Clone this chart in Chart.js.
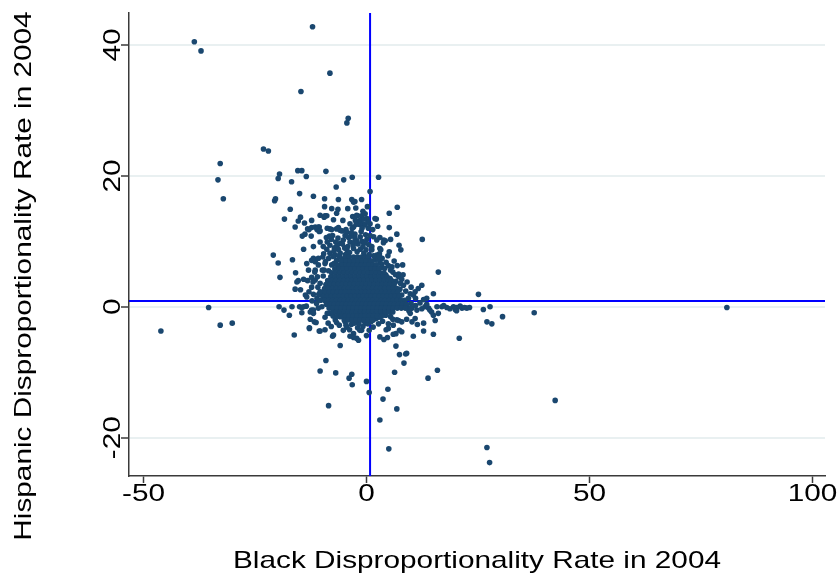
<!DOCTYPE html>
<html>
<head>
<meta charset="utf-8">
<title>Black vs Hispanic disproportionality, 2004</title>
<script src="https://cdn.jsdelivr.net/npm/chart.js@4"></script>
<style>
  html, body { margin: 0; padding: 0; background: #fff; }
  #chart { display: block; }
</style>
</head>
<body>
<canvas id="chart" width="837" height="578"></canvas>
<script>
// axis ticks and titles
const xTicks = [-50, 0, 50, 100];
const xTickLabels = ['-50', '0', '50', '100'];
const yTicks = [-20, 0, 20, 40];
const yTickLabels = ['-20', '0', '20', '40'];
const xTitle = 'Black Disproportionality Rate in 2004';
const yTitle = 'Hispanic Disproportionality Rate in 2004';

// reference lines (sample means)
const meanBlack = 0.8;
const meanHispanic = 0.9;

// scattered districts, [black, hispanic]
const scatterPts = [
  [-38.6, 40.5], [-37.1, 39.1], [-12.1, 42.8], [-8.2, 35.7], [-14.7, 32.9], [-4.1, 28.8], [-4.4, 28.1],
  [-23.1, 24.1], [-22.0, 23.8], [-32.8, 21.9], [-33.3, 19.4], [-32.1, 16.5],
  [-15.4, 20.8], [-14.5, 20.8], [-9.1, 20.7], [-19.5, 20.3], [-19.8, 19.6], [-16.8, 19.1], [-13.5, 19.9],
  [-5.1, 19.4], [-3.2, 19.8], [-6.8, 18.3], [2.7, 19.8], [0.8, 17.6], [-15.0, 17.3], [-11.9, 16.9],
  [-20.6, 16.2], [-20.4, 16.5], [-9.4, 16.5], [-6.3, 16.4], [-3.3, 16.4], [-1.1, 16.4], [-2.6, 16.1], [-2.9, 16.0],
  [-9.4, 15.3], [-7.8, 15.0], [-6.4, 14.9], [-6.7, 14.3], [-4.2, 15.0], [-17.1, 14.9], [6.9, 15.2], [5.1, 14.3],
  [-18.4, 13.4], [-14.8, 13.7], [-15.3, 13.1], [-13.9, 12.8], [-16.0, 12.2], [-12.3, 13.2],
  [-10.4, 14.0], [-9.5, 13.7], [-8.9, 13.9], [-9.3, 13.9], [-10.6, 12.2], [-8.2, 11.9], [-8.8, 12.0],
  [-13.2, 11.9], [-12.3, 12.1], [-11.5, 12.2], [-10.8, 12.2],
  [-14.4, 10.8], [-13.8, 11.1], [-12.4, 10.8], [-11.1, 11.8], [-10.6, 11.5], [-12.9, 11.8], [-10.4, 11.6],
  [-6.7, 11.9], [-5.9, 11.7], [-4.6, 11.8], [-6.3, 12.1], [-7.8, 11.8], [-5.5, 11.6], [-4.4, 11.4],
  [-3.1, 13.8], [-2.2, 14.0], [-1.1, 13.9], [-0.3, 14.2], [0.1, 13.5], [1.9, 13.5], [-2.0, 13.9], [-1.4, 13.2], [2.2, 13.4],
  [-1.4, 12.8], [-0.7, 12.6], [0.8, 12.7], [-3.7, 12.7], [-2.9, 12.2], [-1.6, 12.6], [-0.3, 12.5],
  [5.1, 12.1], [6.8, 11.1], [12.5, 10.3], [3.0, 10.6], [3.9, 10.2], [5.4, 10.3], [1.6, 10.7], [2.3, 10.2], [4.2, 10.1], [3.8, 9.8],
  [7.3, 9.4], [7.7, 8.7], [5.1, 8.4], [3.0, 8.9], [2.9, 8.1], [1.2, 9.2], [1.2, 8.7], [3.2, 8.7],
  [8.1, 6.4], [5.7, 6.1], [5.4, 5.6], [7.2, 5.0], [7.2, 4.6], [16.1, 5.3], [7.9, 4.2], [5.3, 4.3],
  [2.3, 7.9], [1.9, 7.2], [3.0, 6.9], [3.4, 6.5],
  [-5.2, 10.2], [-5.9, 9.7], [-3.7, 9.9], [-2.6, 10.5], [-1.4, 10.7], [0.1, 10.3],
  [-10.4, 9.9], [-9.7, 9.2], [-8.2, 9.4], [-11.9, 9.2], [-14.1, 8.8],
  [-8.2, 8.2], [-8.5, 7.4], [-7.0, 7.9], [-5.9, 8.2], [-4.4, 8.7], [-2.9, 8.9], [-1.4, 8.8], [-0.1, 8.7],
  [-20.9, 7.9], [-19.8, 6.7], [-19.4, 4.5], [-16.6, 7.2], [-15.9, 5.2], [-13.4, 6.6], [-12.3, 7.1], [-11.5, 6.9], [-11.9, 7.4],
  [-10.8, 7.4], [-9.3, 6.6], [-7.8, 6.4], [-6.7, 7.1], [-5.5, 6.6],
  [-11.5, 5.6], [-9.5, 5.6], [-11.6, 5.3],
  [-15.3, 4.0], [-14.1, 4.2], [-13.2, 4.0], [-12.3, 4.5], [-11.5, 4.1], [-15.6, 3.8], [-10.4, 3.6],
  [-16.0, 2.7], [-13.7, 1.8], [-12.3, 3.0], [-13.4, 1.5], [-11.9, 1.9], [-10.4, 2.3], [-11.1, 1.3], [-9.7, 1.1], [-8.5, 0.9], [-7.8, 1.3],
  [-35.4, -0.1], [-32.8, -2.8], [-30.1, -2.5], [-46.1, -3.7],
  [-19.6, 0.0], [-18.5, -0.5], [-17.3, -1.3], [-16.7, 0.0], [-15.0, 0.0], [-14.5, -0.1], [-14.1, 0.0], [-13.5, 0.1],
  [-12.3, -0.5], [-12.6, -0.8], [-11.9, -0.5], [-10.8, -0.2], [-10.0, 0.0], [-14.5, -0.9], [-11.9, -1.0],
  [-12.6, -1.9], [-11.7, -2.3], [-11.3, -2.4], [-9.3, -1.6], [-12.8, -3.2], [-10.4, -3.7], [-9.3, -3.5], [-16.2, -4.3],
  [-7.4, -4.3], [-5.9, -5.9], [-4.4, -3.1], [-2.9, -4.1], [-2.2, -4.8], [-1.8, -5.1], [-1.1, -3.6], [-0.3, -2.5],
  [-8.2, -1.0], [-7.0, -2.0], [-5.9, -1.5], [-4.8, -2.3], [1.5, -2.0], [2.7, -2.6], [1.5, -3.1], [-3.7, -4.5],
  [12.4, 3.3], [11.6, 2.8], [10.9, 2.3], [9.8, 2.0], [10.5, 1.8], [8.3, 3.3], [7.5, 2.7], [6.0, 3.6], [6.4, 1.8], [7.9, 1.8],
  [15.0, 2.0], [13.5, 1.3], [12.8, 1.1], [25.1, 1.9],
  [15.8, 0.0], [16.9, 0.0], [18.0, -0.1], [19.5, 0.0], [20.2, -0.1], [21.4, -0.2], [22.5, -0.2], [16.1, -1.0],
  [13.9, -0.2], [13.1, 0.0], [14.6, -0.8], [19.9, -0.4], [20.2, -0.6],
  [9.0, 0.0], [10.2, -0.2], [11.3, -0.5], [9.8, -1.0], [10.9, -1.8], [9.0, -1.9], [10.2, -2.3], [15.0, -1.3], [15.4, -2.1],
  [12.8, -2.5], [15.0, -4.2], [11.4, -2.7], [12.8, -3.7], [10.5, -4.5], [7.4, -3.6], [6.6, -4.1], [6.0, -4.2], [7.9, -3.8],
  [4.9, -3.3], [7.2, -2.1], [7.9, -2.3], [6.8, -2.0], [3.0, -4.6], [3.9, -5.0], [4.7, -4.7], [6.6, -6.0], [20.8, -4.8],
  [26.2, -0.4], [27.7, 0.0], [30.5, -1.5], [37.6, -0.9], [27.0, -2.3], [28.1, -2.6], [80.8, -0.1], [42.3, -14.3],
  [-9.1, -8.2], [-10.4, -9.8], [-6.9, -10.1], [-3.9, -10.9], [-3.3, -10.3], [-3.2, -11.9], [0.0, -11.4], [0.6, -13.1],
  [3.7, -14.1], [4.8, -12.6], [6.3, -10.0], [7.4, -7.3], [9.0, -7.1], [8.8, -7.2], [8.4, -8.6], [13.8, -10.9], [15.9, -9.7],
  [-8.5, -15.1], [6.8, -15.6], [3.0, -17.3], [5.0, -21.7], [27.0, -21.5], [27.6, -23.8],
  [-12.8, -3.3], [-10.6, -3.7], [-7.6, -4.5], [-2.9, -4.7],
  [-3.8, 8.3], [-2.1, 8.4], [-0.6, 8.2], [0.6, 8.0], [-3.0, 9.4], [-1.9, 9.6], [-0.8, 9.2], [0.5, 9.5],
  [-2.6, 11.1], [-1.2, 11.5], [-0.2, 11.0], [0.4, 12.0], [-1.9, 12.9], [-0.8, 14.6], [-2.4, 15.1], [0.2, 15.3],
  [-4.9, 9.0], [-6.9, 9.9], [-4.0, 10.6], [-3.2, 12.0], [-5.3, 13.2], [-7.4, 13.3], [1.4, 11.8], [2.5, 12.3],
  [10.0, 0.5], [11.0, 0.2], [12.0, 0.6], [12.4, -0.3], [13.5, 0.4], [14.2, -0.5], [9.5, -0.6], [17.3, 0.2],
  [18.7, -0.3], [21.0, 0.1], [22.0, -0.1], [23.1, -0.1],
  [-12.9, 2.3], [-14.8, 2.6], [-11.0, 4.6], [-13.0, 5.6], [-10.8, 6.4], [-9.8, 7.6], [-8.9, 8.8], [-7.2, 9.0],
  [-6.4, 10.5], [-9.0, 10.6], [-7.6, 10.9],
  [-8.6, -2.5], [-6.1, -2.8], [-3.4, -2.7], [-0.8, -3.0], [0.6, -3.6], [3.6, -2.2], [5.4, -1.5], [6.0, -2.8],
  [4.4, -3.5], [-2.0, -3.2], [-5.2, -3.6], [-7.9, -3.0],
  [3.5, 7.4], [4.4, 6.8], [4.8, 7.8], [6.2, 7.0], [6.6, 3.9], [8.8, 2.4], [9.4, 1.3]
];

// districts crowding the edge of the central block
const haloPts = [
  [-9.6, 8.1], [-8.8, 9.9], [-7.9, 10.3], [-7.3, 8.5], [-6.6, 9.3], [-6.0, 7.6], [-5.4, 9.6], [-4.7, 8.0],
  [-4.2, 9.2], [-3.5, 10.8], [-9.2, 6.9], [-7.5, 7.7], [-6.3, 8.8], [-5.1, 7.3], [-8.3, 10.8], [-4.8, 10.9],
  [-3.4, 11.3], [-2.2, 10.1], [-1.0, 10.0], [0.8, 10.9], [-0.4, 9.8], [-2.7, 9.9],
  [-2.3, 12.6], [-1.0, 12.0], [0.3, 13.0], [-0.6, 13.4], [-2.5, 13.2],
  [1.6, 7.8], [2.6, 7.3], [3.3, 6.0], [4.1, 5.9], [4.9, 6.3], [5.9, 5.3], [6.5, 4.9], [7.6, 3.6], [8.2, 4.9],
  [2.9, 7.7], [4.3, 4.9], [6.9, 6.3], [9.1, 3.8], [10.0, 3.0], [11.0, 1.3], [9.9, -0.2],
  [-4.6, -2.8], [-3.8, -3.5], [-2.7, -2.5], [-1.7, -2.6], [-0.6, -2.1], [0.3, -2.6], [1.0, -2.3], [2.2, -1.8],
  [3.0, -1.6], [4.3, -1.3], [5.9, -1.9], [4.9, -2.6], [-1.5, -3.6], [0.0, -4.4], [-6.7, -2.4], [-7.5, -1.4], [-8.8, -1.0],
  [-11.2, 0.5], [-10.7, 1.9], [-12.2, 0.9], [-10.9, 3.0], [-9.7, 4.7], [-9.9, 5.6], [-8.5, 5.5], [-7.3, 6.6], [-12.0, 3.8]
];

// the dense block of districts near zero, one row per hispanic value
const coreRowY = [7.6, 7.0, 6.4, 5.8, 5.2, 4.6, 4.0, 3.4, 2.8, 2.2, 1.6, 1.0, 0.4, -0.2, -0.8, -1.4, -2.0];
const coreRowX = [
  [-4.8, -3.9, -2.9, -2.0, -1.1, -0.2, 0.3],
  [-5.6, -4.6, -3.7, -2.8, -1.9, -1.0, -0.1, 0.8, 1.1],
  [-6.5, -5.5, -4.6, -3.8, -2.9, -2.0, -1.1, -0.2, 0.6, 1.5, 2.2],
  [-7.1, -6.2, -5.3, -4.4, -3.5, -2.6, -1.7, -0.8, 0.1, 1.0, 1.9, 2.8],
  [-7.8, -6.9, -6.0, -5.1, -4.2, -3.3, -2.4, -1.5, -0.6, 0.3, 1.2, 2.1, 3.0, 3.9],
  [-8.0, -7.1, -6.2, -5.3, -4.4, -3.5, -2.6, -1.7, -0.8, 0.1, 1.0, 1.9, 2.8, 3.7, 4.6],
  [-8.7, -7.8, -6.9, -6.0, -5.1, -4.2, -3.3, -2.4, -1.5, -0.6, 0.3, 1.2, 2.1, 3.0, 3.9, 4.8, 5.6],
  [-9.1, -8.2, -7.3, -6.4, -5.5, -4.6, -3.7, -2.8, -1.9, -1.0, -0.1, 0.8, 1.7, 2.6, 3.5, 4.4, 5.3, 6.2],
  [-9.4, -8.5, -7.6, -6.7, -5.8, -4.9, -4.0, -3.1, -2.2, -1.3, -0.4, 0.5, 1.4, 2.3, 3.2, 4.1, 5.0, 5.9, 6.8],
  [-10.1, -9.2, -8.3, -7.4, -6.5, -5.6, -4.7, -3.8, -2.9, -2.0, -1.1, -0.2, 0.7, 1.6, 2.5, 3.4, 4.3, 5.2, 6.1, 7.0],
  [-9.8, -8.9, -8.0, -7.1, -6.2, -5.3, -4.4, -3.5, -2.6, -1.7, -0.8, 0.1, 1.0, 1.9, 2.8, 3.7, 4.6, 5.5, 6.4, 7.3],
  [-10.3, -9.4, -8.5, -7.6, -6.7, -5.8, -4.9, -4.0, -3.1, -2.2, -1.3, -0.4, 0.5, 1.4, 2.3, 3.2, 4.1, 5.0, 5.9, 6.8, 7.7, 8.6],
  [-9.0, -8.1, -7.2, -6.3, -5.4, -4.5, -3.6, -2.7, -1.8, -0.9, 0.0, 0.9, 1.8, 2.7, 3.6, 4.5, 5.4, 6.3, 7.2, 8.1, 9.0],
  [-8.4, -7.5, -6.6, -5.7, -4.8, -3.9, -3.0, -2.1, -1.2, -0.3, 0.6, 1.5, 2.4, 3.3, 4.2, 5.1, 6.0, 6.9, 7.8, 8.7],
  [-7.6, -6.7, -5.8, -4.9, -4.0, -3.1, -2.2, -1.3, -0.4, 0.5, 1.4, 2.3, 3.2, 4.1, 5.0, 5.9],
  [-6.5, -5.6, -4.7, -3.8, -2.9, -2.0, -1.1, -0.2, 0.7, 1.6, 2.5, 3.4],
  [-5.0, -4.1, -3.2, -2.3, -1.4, -0.5, 0.4, 1.3]
];

const NAVY = '#1a476f';
const AXIS = '#3a3a3a';
const GRID = '#e9f0f1';
const FONT = '24px "Liberation Sans", Arial, sans-serif';
const STRETCH = 1.24; // labels are drawn a bit wider than the stock face

const points = scatterPts.concat(haloPts).map(([x, y]) => ({ x, y }));
coreRowY.forEach((y, i) => {
  coreRowX[i].forEach((x) => points.push({ x, y }));
});

const drawText = (ctx, text, x, y, angle) => {
  ctx.save();
  ctx.translate(x, y);
  ctx.rotate(angle);
  ctx.scale(STRETCH, 1);
  ctx.fillText(text, 0, 0);
  ctx.restore();
};

// blue mean lines go under the markers
const meanLines = {
  id: 'meanLines',
  beforeDatasetsDraw(chart) {
    const { ctx, chartArea, scales: { x, y } } = chart;
    const px = x.getPixelForValue(meanBlack);
    const py = y.getPixelForValue(meanHispanic);
    ctx.save();
    ctx.strokeStyle = '#0000ff';
    ctx.lineWidth = 2;
    ctx.beginPath();
    ctx.moveTo(px, chartArea.top);
    ctx.lineTo(px, chartArea.bottom);
    ctx.moveTo(chartArea.left, py);
    ctx.lineTo(chartArea.right, py);
    ctx.stroke();
    ctx.restore();
  }
};

// tick labels and axis titles
const axisText = {
  id: 'axisText',
  afterDraw(chart) {
    const { ctx, chartArea, scales: { x, y } } = chart;
    ctx.save();
    ctx.fillStyle = '#000';
    ctx.font = FONT;
    ctx.textAlign = 'center';
    ctx.textBaseline = 'alphabetic';
    xTicks.forEach((v, i) => drawText(ctx, xTickLabels[i], x.getPixelForValue(v), x.top + 25, 0));
    yTicks.forEach((v, i) => drawText(ctx, yTickLabels[i], y.right - 9, y.getPixelForValue(v), -Math.PI / 2));
    drawText(ctx, xTitle, (chartArea.left + chartArea.right) / 2, 568, 0);
    drawText(ctx, yTitle, 31, 276, -Math.PI / 2);
    ctx.restore();
  }
};

const ctx = document.getElementById('chart').getContext('2d');
new Chart(ctx, {
  type: 'scatter',
  data: {
    datasets: [{
      data: points,
      backgroundColor: NAVY,
      borderWidth: 0,
      pointRadius: 2.8,
      pointHoverRadius: 2.8
    }]
  },
  options: {
    responsive: false,
    animation: false,
    devicePixelRatio: 1,
    events: [],
    layout: { padding: { top: 13, right: 12, left: 0, bottom: 0 } },
    plugins: {
      legend: { display: false },
      tooltip: { enabled: false }
    },
    scales: {
      x: {
        type: 'linear',
        min: -53.25,
        max: 102.8,
        afterFit: (scale) => { scale.height = 102; },
        afterBuildTicks: (scale) => { scale.ticks = xTicks.map((v) => ({ value: v })); },
        ticks: { display: false },
        grid: { drawOnChartArea: false, drawTicks: true, tickLength: 7, tickColor: AXIS, tickWidth: 1.5 },
        border: { color: AXIS, width: 1.5 }
      },
      y: {
        type: 'linear',
        min: -25.85,
        max: 44.89,
        afterFit: (scale) => { scale.width = 129; },
        afterBuildTicks: (scale) => { scale.ticks = yTicks.map((v) => ({ value: v })); },
        ticks: { display: false },
        grid: { color: GRID, lineWidth: 2, drawTicks: true, tickLength: 8, tickColor: AXIS, tickWidth: 1.5 },
        border: { color: AXIS, width: 1.5 }
      }
    }
  },
  plugins: [meanLines, axisText]
});
</script>
</body>
</html>
